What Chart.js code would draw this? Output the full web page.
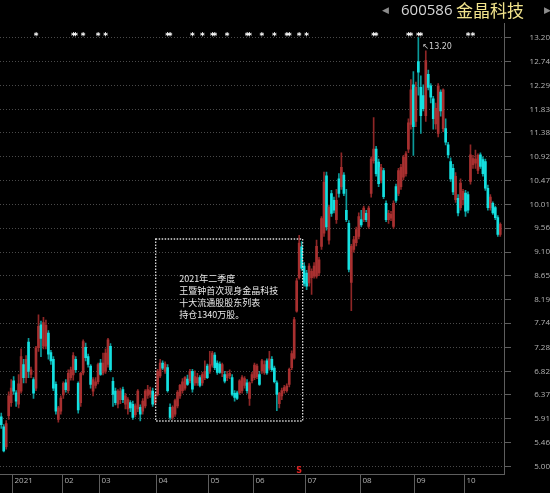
<!DOCTYPE html>
<html>
<head>
<meta charset="utf-8">
<script src="https://cdn.jsdelivr.net/npm/chart.js@4.4.0/dist/chart.umd.min.js"></script>
<style>
  html, body { margin: 0; padding: 0; background: #000; }
  #wrap { width: 550px; height: 493px; }
</style>
</head>
<body>
<div id="wrap"><canvas id="kline" width="550" height="493"></canvas></div>
<script>
// ── Daily candles, 2020-12-28 .. 2021-10-29 ─────────
const OPEN = [
  5.95, 5.76, 5.38, 5.97, 6.22, 6.64, 6.41, 6.19, 6.44, 6.95,
  6.70, 7.38, 6.76, 6.66, 6.50, 7.27, 7.71, 7.30, 7.30, 7.55,
  7.18, 7.05, 6.57, 5.90, 6.06, 6.37, 6.60, 6.45, 6.70, 6.75,
  7.05, 6.59, 6.22, 6.79, 7.28, 7.10, 6.92, 6.44, 6.55, 6.62,
  6.98, 6.79, 6.82, 6.95, 7.30, 6.63, 6.44, 6.19, 6.28, 6.47,
  6.19, 6.10, 6.22, 6.19, 5.99, 6.10, 6.13, 6.06, 6.16, 6.36,
  6.38, 6.44, 6.22, 6.38, 6.73, 6.98, 6.82, 6.89, 6.13, 5.94,
  6.00, 6.16, 6.35, 6.45, 6.50, 6.67, 6.64, 6.82, 6.60, 6.60,
  6.70, 6.60, 6.70, 6.92, 6.82, 6.94, 7.13, 6.98, 6.96, 6.79,
  6.76, 6.70, 6.73, 6.70, 6.40, 6.41, 6.41, 6.45, 6.55, 6.60,
  6.30, 6.64, 6.70, 6.72, 6.76, 6.83, 6.80, 7.02, 6.88, 7.05,
  6.88, 6.60, 6.20, 6.35, 6.45, 6.45, 6.57, 6.89, 7.07, 7.97,
  8.61, 9.20, 8.83, 8.70, 8.51, 8.61, 8.64, 8.64, 8.70, 9.21,
  9.46, 10.56, 9.33, 10.22, 10.09, 9.72, 10.50, 10.35, 10.57, 9.90,
  9.65, 8.52, 9.15, 9.28, 9.40, 9.72, 9.72, 9.84, 9.59, 10.22,
  10.85, 11.07, 10.82, 10.47, 10.66, 10.03, 9.72, 9.75, 9.59, 10.35,
  10.22, 10.35, 10.53, 10.60, 11.07, 11.54, 12.30, 11.60, 12.74, 12.25,
  12.09, 11.71, 12.50, 12.28, 12.03, 11.55, 11.37, 12.16, 11.46, 11.46,
  11.15, 10.83, 10.70, 10.10, 10.13, 9.95, 10.10, 10.23, 10.20, 10.45,
  10.77, 10.80, 10.66, 10.96, 10.87, 10.83, 10.32, 9.95, 10.03, 9.95,
  9.76, 9.44
];
const HIGH = [
  6.02, 5.80, 5.88, 6.43, 6.66, 6.72, 6.45, 6.76, 7.25, 7.05,
  7.12, 7.45, 6.90, 6.70, 7.30, 7.90, 7.78, 7.85, 7.80, 7.60,
  7.22, 7.10, 6.62, 6.15, 6.35, 6.62, 6.66, 6.85, 6.90, 7.18,
  7.10, 6.62, 6.80, 7.42, 7.36, 7.15, 6.95, 6.70, 6.70, 6.98,
  7.05, 7.17, 7.25, 7.45, 7.35, 6.70, 6.50, 6.47, 6.50, 6.52,
  6.40, 6.32, 6.26, 6.25, 6.20, 6.47, 6.18, 6.30, 6.47, 6.55,
  6.52, 6.50, 6.40, 6.86, 7.05, 7.02, 7.00, 6.95, 6.20, 6.16,
  6.29, 6.45, 6.57, 6.68, 6.72, 6.75, 6.86, 6.86, 6.83, 6.78,
  6.74, 6.80, 7.02, 6.96, 7.20, 7.20, 7.18, 7.02, 7.00, 6.98,
  6.82, 6.82, 6.85, 6.76, 6.45, 6.44, 6.66, 6.74, 6.72, 6.66,
  6.62, 6.80, 6.98, 6.96, 6.82, 7.05, 7.02, 7.06, 7.20, 7.10,
  6.92, 6.64, 6.42, 6.50, 6.55, 6.58, 6.88, 7.21, 7.85, 8.60,
  9.42, 9.30, 8.90, 8.75, 8.88, 8.78, 8.90, 9.33, 9.00, 9.78,
  10.63, 10.63, 10.00, 10.28, 10.15, 10.30, 10.60, 11.00, 10.62, 10.30,
  9.70, 9.25, 9.40, 9.58, 9.85, 9.90, 9.98, 9.90, 9.98, 10.92,
  11.67, 11.12, 10.88, 10.78, 10.70, 10.08, 9.90, 9.88, 10.08, 10.40,
  10.70, 10.78, 10.95, 11.02, 11.65, 12.40, 12.55, 12.35, 13.20, 12.47,
  12.30, 12.95, 12.58, 12.32, 12.08, 11.95, 12.32, 12.20, 12.22, 11.65,
  11.20, 10.90, 10.78, 10.62, 10.20, 10.50, 10.30, 10.28, 10.25, 11.15,
  10.95, 11.05, 10.98, 11.00, 10.92, 10.88, 10.38, 10.20, 10.06, 9.98,
  9.80, 9.66
];
const LOW = [
  5.73, 5.28, 5.33, 5.90, 6.15, 6.38, 6.15, 6.12, 6.40, 6.60,
  6.60, 6.70, 6.70, 6.30, 6.45, 7.20, 7.10, 7.25, 7.25, 7.05,
  6.95, 6.45, 6.00, 5.85, 6.00, 6.30, 6.42, 6.40, 6.65, 6.65,
  6.80, 6.02, 6.15, 6.75, 7.02, 6.90, 6.50, 6.35, 6.50, 6.58,
  6.74, 6.75, 6.78, 6.90, 6.82, 6.15, 6.18, 6.12, 6.20, 6.22,
  6.10, 6.00, 6.05, 5.90, 5.95, 6.05, 5.87, 6.00, 6.12, 6.30,
  6.32, 6.15, 6.18, 6.35, 6.70, 6.85, 6.78, 6.42, 5.90, 5.90,
  5.96, 6.12, 6.30, 6.40, 6.46, 6.55, 6.60, 6.42, 6.55, 6.55,
  6.52, 6.55, 6.66, 6.68, 6.78, 6.90, 6.85, 6.76, 6.78, 6.72,
  6.60, 6.64, 6.68, 6.35, 6.25, 6.28, 6.38, 6.40, 6.50, 6.40,
  6.17, 6.60, 6.66, 6.68, 6.55, 6.78, 6.76, 6.76, 6.84, 6.82,
  6.60, 6.07, 6.12, 6.28, 6.40, 6.42, 6.52, 6.85, 7.05, 7.95,
  8.58, 8.75, 8.45, 8.38, 8.45, 8.29, 8.60, 8.60, 8.65, 9.15,
  9.40, 9.52, 9.25, 9.78, 9.85, 9.65, 10.15, 10.30, 10.18, 9.68,
  8.72, 7.98, 9.10, 9.22, 9.35, 9.58, 9.68, 9.68, 9.55, 10.15,
  10.80, 10.55, 10.35, 10.42, 10.12, 9.68, 9.65, 9.70, 9.55, 10.05,
  10.18, 10.30, 10.48, 10.55, 11.00, 11.45, 10.95, 11.50, 12.10, 11.37,
  11.80, 11.60, 12.20, 11.95, 11.45, 11.45, 11.30, 11.70, 11.40, 11.15,
  10.90, 10.45, 10.20, 10.05, 9.79, 9.90, 10.00, 9.78, 9.85, 10.40,
  10.70, 10.70, 10.60, 10.70, 10.55, 10.28, 9.90, 9.90, 9.82, 9.72,
  9.40, 9.40
];
const CLOSE = [
  5.80, 5.30, 5.82, 6.35, 6.50, 6.44, 6.25, 6.58, 7.10, 6.70,
  7.05, 6.82, 6.85, 6.40, 7.27, 7.68, 7.45, 7.75, 7.70, 7.15,
  7.02, 6.50, 6.06, 6.12, 6.31, 6.59, 6.47, 6.78, 6.85, 7.12,
  6.85, 6.08, 6.78, 7.39, 7.08, 6.95, 6.57, 6.66, 6.62, 6.95,
  6.76, 6.98, 7.17, 7.42, 6.85, 6.38, 6.22, 6.44, 6.44, 6.28,
  6.35, 6.28, 6.12, 5.94, 6.16, 6.44, 6.00, 6.25, 6.44, 6.47,
  6.45, 6.19, 6.36, 6.82, 6.98, 6.88, 6.96, 6.45, 5.94, 6.13,
  6.26, 6.42, 6.55, 6.62, 6.70, 6.57, 6.82, 6.48, 6.72, 6.70,
  6.55, 6.76, 6.82, 6.70, 6.95, 7.17, 6.89, 6.80, 6.80, 6.95,
  6.63, 6.76, 6.78, 6.38, 6.32, 6.30, 6.64, 6.70, 6.68, 6.45,
  6.60, 6.76, 6.94, 6.92, 6.57, 7.02, 6.95, 6.79, 7.06, 6.85,
  6.62, 6.38, 6.40, 6.45, 6.51, 6.54, 6.86, 7.16, 7.81, 8.55,
  9.27, 8.79, 8.50, 8.45, 8.83, 8.73, 8.83, 9.21, 8.95, 9.74,
  10.44, 9.58, 9.96, 9.84, 9.90, 10.09, 10.22, 10.72, 10.22, 9.72,
  8.77, 9.21, 9.34, 9.53, 9.78, 9.62, 9.94, 9.72, 9.94, 10.88,
  11.07, 10.60, 10.41, 10.72, 10.16, 9.72, 9.84, 9.82, 10.03, 10.09,
  10.66, 10.72, 10.91, 10.98, 11.57, 12.20, 11.50, 12.25, 12.54, 11.71,
  11.84, 12.76, 12.25, 12.06, 11.65, 11.85, 12.28, 11.80, 12.20, 11.20,
  10.96, 10.50, 10.25, 10.55, 9.85, 10.42, 10.26, 9.88, 9.90, 10.96,
  10.89, 10.88, 10.95, 10.74, 10.60, 10.32, 9.95, 10.15, 9.85, 9.76,
  9.44, 9.63
];

// price axis ticks and month ticks
const PRICE_TICKS = [13.20, 12.74, 12.29, 11.83, 11.38, 10.92, 10.47, 10.01, 9.56, 9.10,
  8.65, 8.19, 7.74, 7.28, 6.82, 6.37, 5.91, 5.46, 5.00];
const MONTH_LABELS = ['2021', '02', '03', '04', '05', '06', '07', '08', '09', '10'];
const MONTH_START = [4, 24, 39, 62, 83, 101, 122, 144, 166, 186];

// event markers (*) along the top, by candle index
const EVENT_MARKS = [14, 29, 30, 33, 39, 42, 67, 68, 77, 81, 85, 86, 91, 99, 100,
  105, 110, 115, 116, 120, 123, 150, 151, 164, 165, 168, 169, 188, 190];

// note box
const NOTE_LINES = ['2021年二季度', '王暨钟首次现身金晶科技', '十大流通股股东列表', '持仓1340万股。'];
const NOTE_SPAN = [62, 121];
const NOTE_PRICE = [9.35, 5.87];
const SIGNAL_INDEX = 120;

// ── Colours ─────────────────────────────────────────
const UP_BODY = '#a83030';
const UP_WICK = '#8e2626';
const DOWN_BODY = '#14e0e0';
const DOWN_WICK = '#0b9a9a';
const GRID = '#4a4a4a';
const AXIS = '#5e5e5e';
const LABEL = '#b4b4b4';

const isUp = (i) => CLOSE[i] >= OPEN[i];

// ── Overlay: title, markers, note box, month axis ───
const overlay = {
  id: 'overlay',
  afterDraw(chart) {
    const { ctx, chartArea, scales: { x, y } } = chart;
    ctx.save();

    // title
    ctx.textBaseline = 'middle';
    ctx.fillStyle = '#8c8c8c';
    ctx.font = '9px "DejaVu Sans"';
    ctx.fillText('◀', 382, 11);
    ctx.fillText('▶', 544, 11);
    ctx.fillStyle = '#d6d6d6';
    ctx.font = '15px "Open Sans"';
    ctx.fillText('600586', 401, 11);
    ctx.fillStyle = '#f2e48c';
    ctx.font = '17px "Noto Sans CJK SC"';
    ctx.fillText('金晶科技', 456, 11);

    // event markers
    ctx.fillStyle = '#ffffff';
    ctx.font = 'bold 9px "DejaVu Sans"';
    ctx.textAlign = 'center';
    EVENT_MARKS.forEach((i) => {
      ctx.fillText('*', x.getPixelForValue(i), chartArea.top + 14);
    });

    // highest price label
    let top = 0;
    HIGH.forEach((h, i) => { if (h > HIGH[top]) top = i; });
    ctx.textAlign = 'left';
    ctx.fillStyle = '#cfcfcf';
    ctx.font = '8px "DejaVu Sans"';
    ctx.fillText('↖' + HIGH[top].toFixed(2), x.getPixelForValue(top) + 4, y.getPixelForValue(HIGH[top]) + 9);

    // note box
    const bx0 = x.getPixelForValue(NOTE_SPAN[0]) + 0.5;
    const bx1 = x.getPixelForValue(NOTE_SPAN[1]) + 1;
    const by0 = y.getPixelForValue(NOTE_PRICE[0]);
    const by1 = y.getPixelForValue(NOTE_PRICE[1]);
    ctx.strokeStyle = '#dcdcdc';
    ctx.lineWidth = 1.3;
    ctx.setLineDash([1.5, 1.5]);
    ctx.strokeRect(bx0, by0, bx1 - bx0, by1 - by0);
    ctx.setLineDash([]);
    ctx.fillStyle = '#e8e8e8';
    ctx.font = '9px "Noto Sans CJK SC"';
    NOTE_LINES.forEach((line, k) => {
      ctx.fillText(line, bx0 + 23.5, by0 + 40 + k * 11.7);
    });

    // signal mark at the bottom
    ctx.fillStyle = '#e02222';
    ctx.font = 'bold 8px "DejaVu Sans"';
    ctx.textAlign = 'center';
    ctx.fillText('S', x.getPixelForValue(SIGNAL_INDEX), chartArea.bottom - 3);

    // month axis
    ctx.textAlign = 'left';
    ctx.fillStyle = LABEL;
    ctx.font = '8px "Open Sans"';
    ctx.strokeStyle = AXIS;
    ctx.lineWidth = 1;
    MONTH_START.forEach((i, k) => {
      const px = Math.round(x.getPixelForValue(i) + 1) + 0.5;
      ctx.beginPath();
      ctx.moveTo(px, chartArea.bottom);
      ctx.lineTo(px, chart.height);
      ctx.stroke();
      ctx.fillText(MONTH_LABELS[k], px + 2, chartArea.bottom + 6.5);
    });

    ctx.restore();
  },
};

// ── Chart ───────────────────────────────────────────
const slots = OPEN.map((_, i) => i).concat([OPEN.length]);

new Chart(document.getElementById('kline'), {
  type: 'bar',
  data: {
    labels: slots,
    datasets: [
      {
        data: LOW.map((l, i) => [l, HIGH[i]]),
        backgroundColor: (c) => (isUp(c.dataIndex) ? UP_WICK : DOWN_WICK),
        barThickness: 1,
        grouped: false,
        order: 2,
      },
      {
        data: OPEN.map((o, i) => [o, CLOSE[i]]),
        backgroundColor: (c) => (isUp(c.dataIndex) ? UP_BODY : DOWN_BODY),
        barThickness: 2,
        grouped: false,
        order: 1,
      },
    ],
  },
  options: {
    responsive: false,
    animation: false,
    devicePixelRatio: 1,
    layout: { padding: { top: 23, left: 0, right: 0, bottom: 0 } },
    plugins: { legend: { display: false }, tooltip: { enabled: false } },
    scales: {
      x: {
        offset: true,
        grid: { display: false },
        ticks: { display: false },
        border: { display: true, color: AXIS },
        afterFit: (s) => { s.height = 12; },
      },
      y: {
        position: 'right',
        min: 4.853,
        max: 13.48,
        afterBuildTicks: (s) => { s.ticks = PRICE_TICKS.map((v) => ({ value: v })); },
        afterFit: (s) => { s.width = 46; },
        grid: { color: GRID, tickColor: AXIS, tickLength: 7, tickBorderDash: [] },
        border: { color: AXIS, dash: [1, 2] },
        ticks: {
          color: LABEL,
          autoSkip: false,
          padding: 14,
          crossAlign: 'far',
          font: { size: 8, family: '"Open Sans"' },
          callback: (v) => v.toFixed(2),
        },
      },
    },
  },
  plugins: [overlay],
});
</script>
</body>
</html>
